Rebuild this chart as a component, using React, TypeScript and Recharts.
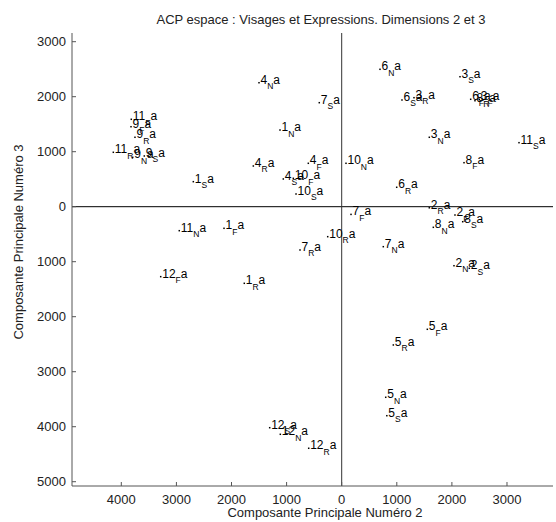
import React from 'react';
import { ScatterChart, Scatter, XAxis, YAxis, ReferenceLine } from 'recharts';

// one entry per face/expression
const faces = [
  '1', '1', '1', '1',
  '2', '2', '2', '2',
  '3', '3', '3', '3',
  '4', '4', '4', '4',
  '5', '5', '5', '5',
  '6', '6', '6', '6',
  '7', '7', '7', '7',
  '8', '8', '8', '8',
  '9', '9', '9', '9',
  '10', '10', '10', '10',
  '11', '11', '11', '11',
  '12', '12', '12', '12',
];
const expressions = [
  'N', 'S', 'F', 'R',
  'R', 'F', 'N', 'S',
  'S', 'R', 'F', 'N',
  'N', 'R', 'F', 'S',
  'F', 'R', 'N', 'S',
  'N', 'S', 'F', 'R',
  'S', 'F', 'R', 'N',
  'F', 'N', 'S', 'R',
  'F', 'R', 'N', 'S',
  'N', 'F', 'S', 'R',
  'F', 'R', 'N', 'S',
  'F', 'S', 'N', 'R',
];
const dim2 = [
  -1120, -2693, -2136, -1768,
  1590, 2056, 2038, 2316,
  2147, 1312, 2497, 1590,
  -1501, -1604, -606, -1060,
  1554, 937, 799, 819,
  695, 1094, 2341, 998,
  -407, 169, -757, 755,
  2220, 1663, 2196, 2419,
  -3824, -3752, -3793, -3583,
  78, -878, -829, -254,
  -3819, -4145, -2948, 3218,
  -3285, -1307, -1114, -599,
];
const dim3 = [
  1394, 455, -393, -1393,
  -20, -151, -1073, -1120,
  2363, 1982, 1953, 1262,
  2254, 740, 789, 504,
  -2229, -2514, -3465, -3800,
  2498, 1940, 1953, 353,
  1891, -140, -787, -727,
  800, -375, -273, 1927,
  1454, 1262, 898, 922,
  789, 516, 231, -545,
  1589, 989, -436, 1164,
  -1272, -4018, -4138, -4392,
];

const xTicks = [-4000, -3000, -2000, -1000, 0, 1000, 2000, 3000];
const yTicks = [-5000, -4000, -3000, -2000, -1000, 0, 1000, 2000, 3000];

const points = faces.map((f, i) => ({ face: f, expr: expressions[i], x: dim2[i], y: dim3[i] }));

const FONT = '"Liberation Sans", Arial, Helvetica, sans-serif';
const AXIS = '#555';

const PointLabel = (props: any) => {
  const { cx, cy, payload } = props;
  return (
    <g>
      <rect x={cx - 0.75} y={cy - 0.75} width={1.5} height={1.5} fill="#000" />
      <text x={cx + 1.5} y={cy + 1} fontSize={12} fontFamily={FONT} fill="#000">
        {payload.face}
        <tspan fontSize={8.5} dy={5.5}>{payload.expr}</tspan>
        <tspan dy={-5.5}>a</tspan>
      </text>
    </g>
  );
};

// minus signs are dropped on the original ticks
const XTick = ({ x, y, payload }: any) => (
  <g>
    <line x1={x} x2={x} y1={y} y2={y - 4} stroke={AXIS} />
    <text x={x} y={y + 17.6} textAnchor="middle" fontSize={13} fontFamily={FONT} fill="#222">
      {Math.abs(payload.value)}
    </text>
  </g>
);

const YTick = ({ x, y, payload }: any) => (
  <g>
    <line x1={x} x2={x + 4} y1={y} y2={y} stroke={AXIS} />
    <text x={x - 6} y={y + 4.6} textAnchor="end" fontSize={13} fontFamily={FONT} fill="#222">
      {Math.abs(payload.value)}
    </text>
  </g>
);

const App: React.FC = () => {
  return (
    <div style={{ position: 'absolute', left: 0, top: 0, width: 556, height: 522, background: '#fff' }}>
      <ScatterChart width={556} height={522} margin={{ top: 33, right: 3, bottom: 0, left: 0 }}>
        <XAxis
          type="number"
          dataKey="x"
          domain={[-4895, 3835]}
          ticks={xTicks}
          interval={0}
          allowDataOverflow
          height={36}
          stroke={AXIS}
          tickSize={0}
          tickMargin={0}
          tickLine={false}
          tick={<XTick />}
        />
        <YAxis
          type="number"
          dataKey="y"
          domain={[-5078, 3158]}
          ticks={yTicks}
          interval={0}
          allowDataOverflow
          width={72}
          stroke={AXIS}
          tickSize={0}
          tickMargin={0}
          tickLine={false}
          tick={<YTick />}
        />
        <ReferenceLine y={0} stroke="#000" />
        <ReferenceLine x={0} stroke="#333" />
        <Scatter data={points} shape={<PointLabel />} isAnimationActive={false} />
      </ScatterChart>
      <svg width={556} height={522} style={{ position: 'absolute', left: 0, top: 0, pointerEvents: 'none' }}>
        <text x={321} y={24} textAnchor="middle" fontSize={13} fontFamily={FONT} fill="#222">
          ACP espace : Visages et Expressions. Dimensions 2 et 3
        </text>
        <text x={325} y={517} textAnchor="middle" fontSize={13} fontFamily={FONT} fill="#222">
          Composante Principale Numéro 2
        </text>
        <text
          x={0}
          y={0}
          transform="translate(23,242) rotate(-90)"
          textAnchor="middle"
          fontSize={13}
          fontFamily={FONT}
          fill="#222"
        >
          Composante Principale Numéro 3
        </text>
      </svg>
    </div>
  );
};

export default App;
